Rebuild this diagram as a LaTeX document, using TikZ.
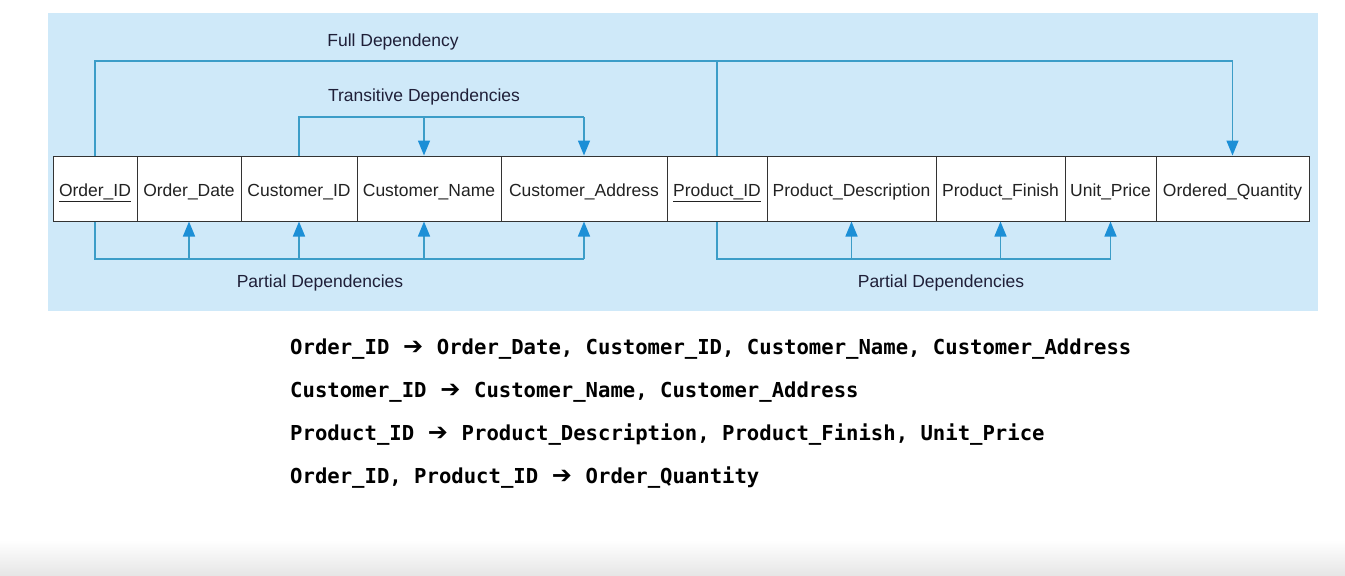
\documentclass[tikz,border=0pt]{standalone}
\usepackage{fontspec}
\setmainfont{Liberation Sans}
\newfontfamily\codefont{DejaVu Sans Mono}
\newfontfamily\arrowfont{DejaVu Sans}
\usetikzlibrary{arrows.meta,calc}
\definecolor{bgblue}{HTML}{CFE9F9}
\definecolor{lineblue}{HTML}{3C9DC8}
\definecolor{tipblue}{HTML}{1C8FD6}
\definecolor{txt}{HTML}{222222}
\tikzset{
  cell/.style={draw=black!80, line width=1pt, fill=white, minimum height=65pt, inner sep=0pt,
    text height=16pt, text depth=0pt,
    font=\fontsize{17.5}{20}\selectfont, text=txt, anchor=center},
  dep/.style={draw=lineblue, line width=1.5pt},
  deparrow/.style={dep, -{Triangle[length=15pt,width=12pt,color=tipblue,fill=tipblue]}},
  lbl/.style={font=\fontsize{17.5}{20}\selectfont, text=txt!90!blue, inner sep=0pt},
  code/.style={font=\codefont\bfseries\fontsize{20.6}{24}\selectfont, anchor=base west, inner sep=0pt, text=black}
}
\newcommand{\depar}{\makebox[47.5pt]{\arrowfont\bfseries\fontsize{24}{24}\selectfont ➔}}
\begin{document}
\begin{tikzpicture}[x=1pt,y=-1pt]
\useasboundingbox (0,0) rectangle (1345,576);
\fill[white] (0,0) rectangle (1345,576);
\shade[top color=white, bottom color=black!10] (0,540) rectangle (1345,576);
\fill[bgblue] (48,13) rectangle (1318,311);

\node[cell, minimum width=84pt]  (a) at (95,188.5)   {\underline{Order\_ID}};
\node[cell, minimum width=104pt] (b) at (189,188.5)  {Order\_Date};
\node[cell, minimum width=116pt] (c) at (299,188.5)  {Customer\_ID};
\node[cell, minimum width=144pt] (d) at (429,188.5)  {Customer\_Name};
\node[cell, minimum width=166pt] (e) at (584,188.5)  {Customer\_Address};
\node[cell, minimum width=100pt] (f) at (717,188.5)  {\underline{Product\_ID}};
\node[cell, minimum width=169pt] (g) at (851.5,188.5) {Product\_Description};
\node[cell, minimum width=129pt] (h) at (1000.5,188.5) {Product\_Finish};
\node[cell, minimum width=91pt]  (i) at (1110.5,188.5) {Unit\_Price};
\node[cell, minimum width=153pt] (j) at (1232.5,188.5) {Ordered\_Quantity};

% Full dependency
\coordinate (ft) at (0,61);
\draw[dep] (f.north) -- (f.north |- ft);
\draw[deparrow] (a.north) |- (ft -| j.north) -- (j.north);
\node[lbl] (lfull) at (393,42) {Full Dependency};

% Transitive dependencies
\coordinate (tt) at (0,117);
\coordinate (dn) at ([xshift=-5pt]d.north);
\draw[dep] (c.north) |- (tt -| e.north);
\draw[deparrow] (tt -| dn) -- (dn);
\draw[deparrow] (tt -| e.north) -- (e.north);
\node[lbl] (ltrans) at (424,97) {Transitive Dependencies};

% Partial dependencies (left)
\coordinate (pb) at (0,259);
\coordinate (ds) at ([xshift=-5pt]d.south);
\draw[dep] (a.south) |- (pb -| e.south);
\draw[deparrow] (pb -| b.south) -- (b.south);
\draw[deparrow] (pb -| c.south) -- (c.south);
\draw[deparrow] (pb -| ds) -- (ds);
\draw[deparrow] (pb -| e.south) -- (e.south);
\node[lbl] (lpart1) at (320,283) {Partial Dependencies};

% Partial dependencies (right)
\draw[dep] (f.south) |- (pb -| i.south);
\draw[deparrow] (pb -| g.south) -- (g.south);
\draw[deparrow] (pb -| h.south) -- (h.south);
\draw[deparrow] (pb -| i.south) -- (i.south);
\node[lbl] (lpart2) at (941,283) {Partial Dependencies};

% Functional dependencies text
\node[code] (f1) at (290,354) {Order\_ID\depar Order\_Date, Customer\_ID, Customer\_Name, Customer\_Address};
\node[code] (f2) at (290,397) {Customer\_ID\depar Customer\_Name, Customer\_Address};
\node[code] (f3) at (290,440) {Product\_ID\depar Product\_Description, Product\_Finish, Unit\_Price};
\node[code] (f4) at (290,483) {Order\_ID, Product\_ID\depar Order\_Quantity};
\end{tikzpicture}
\end{document}
